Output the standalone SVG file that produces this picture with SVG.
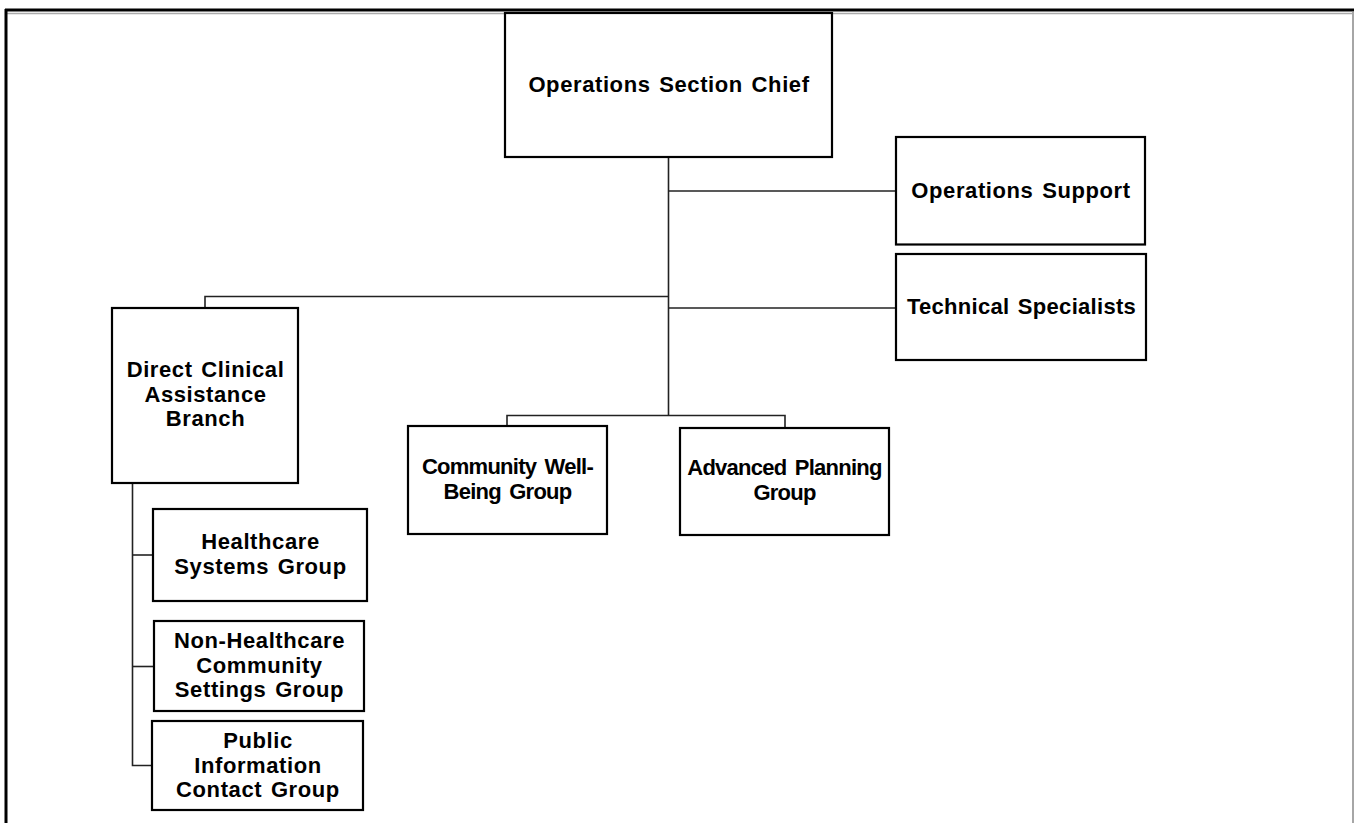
<svg xmlns="http://www.w3.org/2000/svg" width="1354" height="823" viewBox="0 0 1354 823">
<style>
.box{fill:#fff;stroke:#000;stroke-width:2.2}
.lbl{font-family:"Liberation Sans",Arial,sans-serif;font-weight:bold;font-size:22px;fill:#000;text-anchor:middle;letter-spacing:0.6px;word-spacing:2px}
.tight{letter-spacing:-0.75px;word-spacing:3px}
.mid{letter-spacing:0.3px}
.conn{fill:none;stroke:#222;stroke-width:1.6}
</style>
<rect width="1354" height="823" fill="#fff"/>
<g id="frame">
<line x1="5" y1="10" x2="1354" y2="10" stroke="#000" stroke-width="3"/>
<line x1="7" y1="13.5" x2="1352" y2="13.5" stroke="#aaa" stroke-width="1.5"/>
<line x1="6" y1="9" x2="6" y2="823" stroke="#000" stroke-width="3"/>
<line x1="1353" y1="11" x2="1353" y2="823" stroke="#888" stroke-width="1.5"/>
</g>
<g id="connectors">
<path class="conn" d="M668.5 157 V415.5"/>
<path class="conn" d="M668.5 191 H896"/>
<path class="conn" d="M668.5 308 H896"/>
<path class="conn" d="M668.5 296.5 H205 V308"/>
<path class="conn" d="M507 426 V415.5 H785 V428"/>
<path class="conn" d="M132.5 483 V765.5 H152"/>
<path class="conn" d="M132.5 555 H153"/>
<path class="conn" d="M132.5 666.5 H154"/>
</g>
<g id="chief">
<rect class="box" x="505" y="13" width="327" height="144"/>
<text class="lbl" x="669" y="91.5">Operations Section Chief</text>
</g>
<g id="ops-support">
<rect class="box" x="896" y="137" width="249" height="107.5"/>
<text class="lbl" x="1021" y="198">Operations Support</text>
</g>
<g id="tech-specialists">
<rect class="box" x="896" y="254" width="250" height="106"/>
<text class="lbl mid" x="1021.5" y="314">Technical Specialists</text>
</g>
<g id="direct-clinical">
<rect class="box" x="112" y="308" width="186" height="175"/>
<text class="lbl" x="205.5" y="376.5">Direct Clinical</text>
<text class="lbl" x="205.5" y="401.5">Assistance</text>
<text class="lbl" x="205.5" y="425.5">Branch</text>
</g>
<g id="community">
<rect class="box" x="408" y="426" width="199" height="108"/>
<text class="lbl tight" x="507.5" y="474">Community Well-</text>
<text class="lbl tight" x="507.5" y="499">Being Group</text>
</g>
<g id="advanced-planning">
<rect class="box" x="680" y="428" width="209" height="107"/>
<text class="lbl tight" x="784.5" y="475">Advanced Planning</text>
<text class="lbl tight" x="784.5" y="500">Group</text>
</g>
<g id="healthcare">
<rect class="box" x="153" y="509" width="214" height="92"/>
<text class="lbl" x="260.5" y="549">Healthcare</text>
<text class="lbl" x="260.5" y="574">Systems Group</text>
</g>
<g id="non-healthcare">
<rect class="box" x="154" y="621" width="210" height="90"/>
<text class="lbl" x="259.5" y="647.5">Non-Healthcare</text>
<text class="lbl" x="259.5" y="673">Community</text>
<text class="lbl" x="259.5" y="697">Settings Group</text>
</g>
<g id="public-info">
<rect class="box" x="152" y="721" width="211" height="89"/>
<text class="lbl" x="258" y="748">Public</text>
<text class="lbl" x="258" y="773">Information</text>
<text class="lbl" x="258" y="796.5">Contact Group</text>
</g>
</svg>
